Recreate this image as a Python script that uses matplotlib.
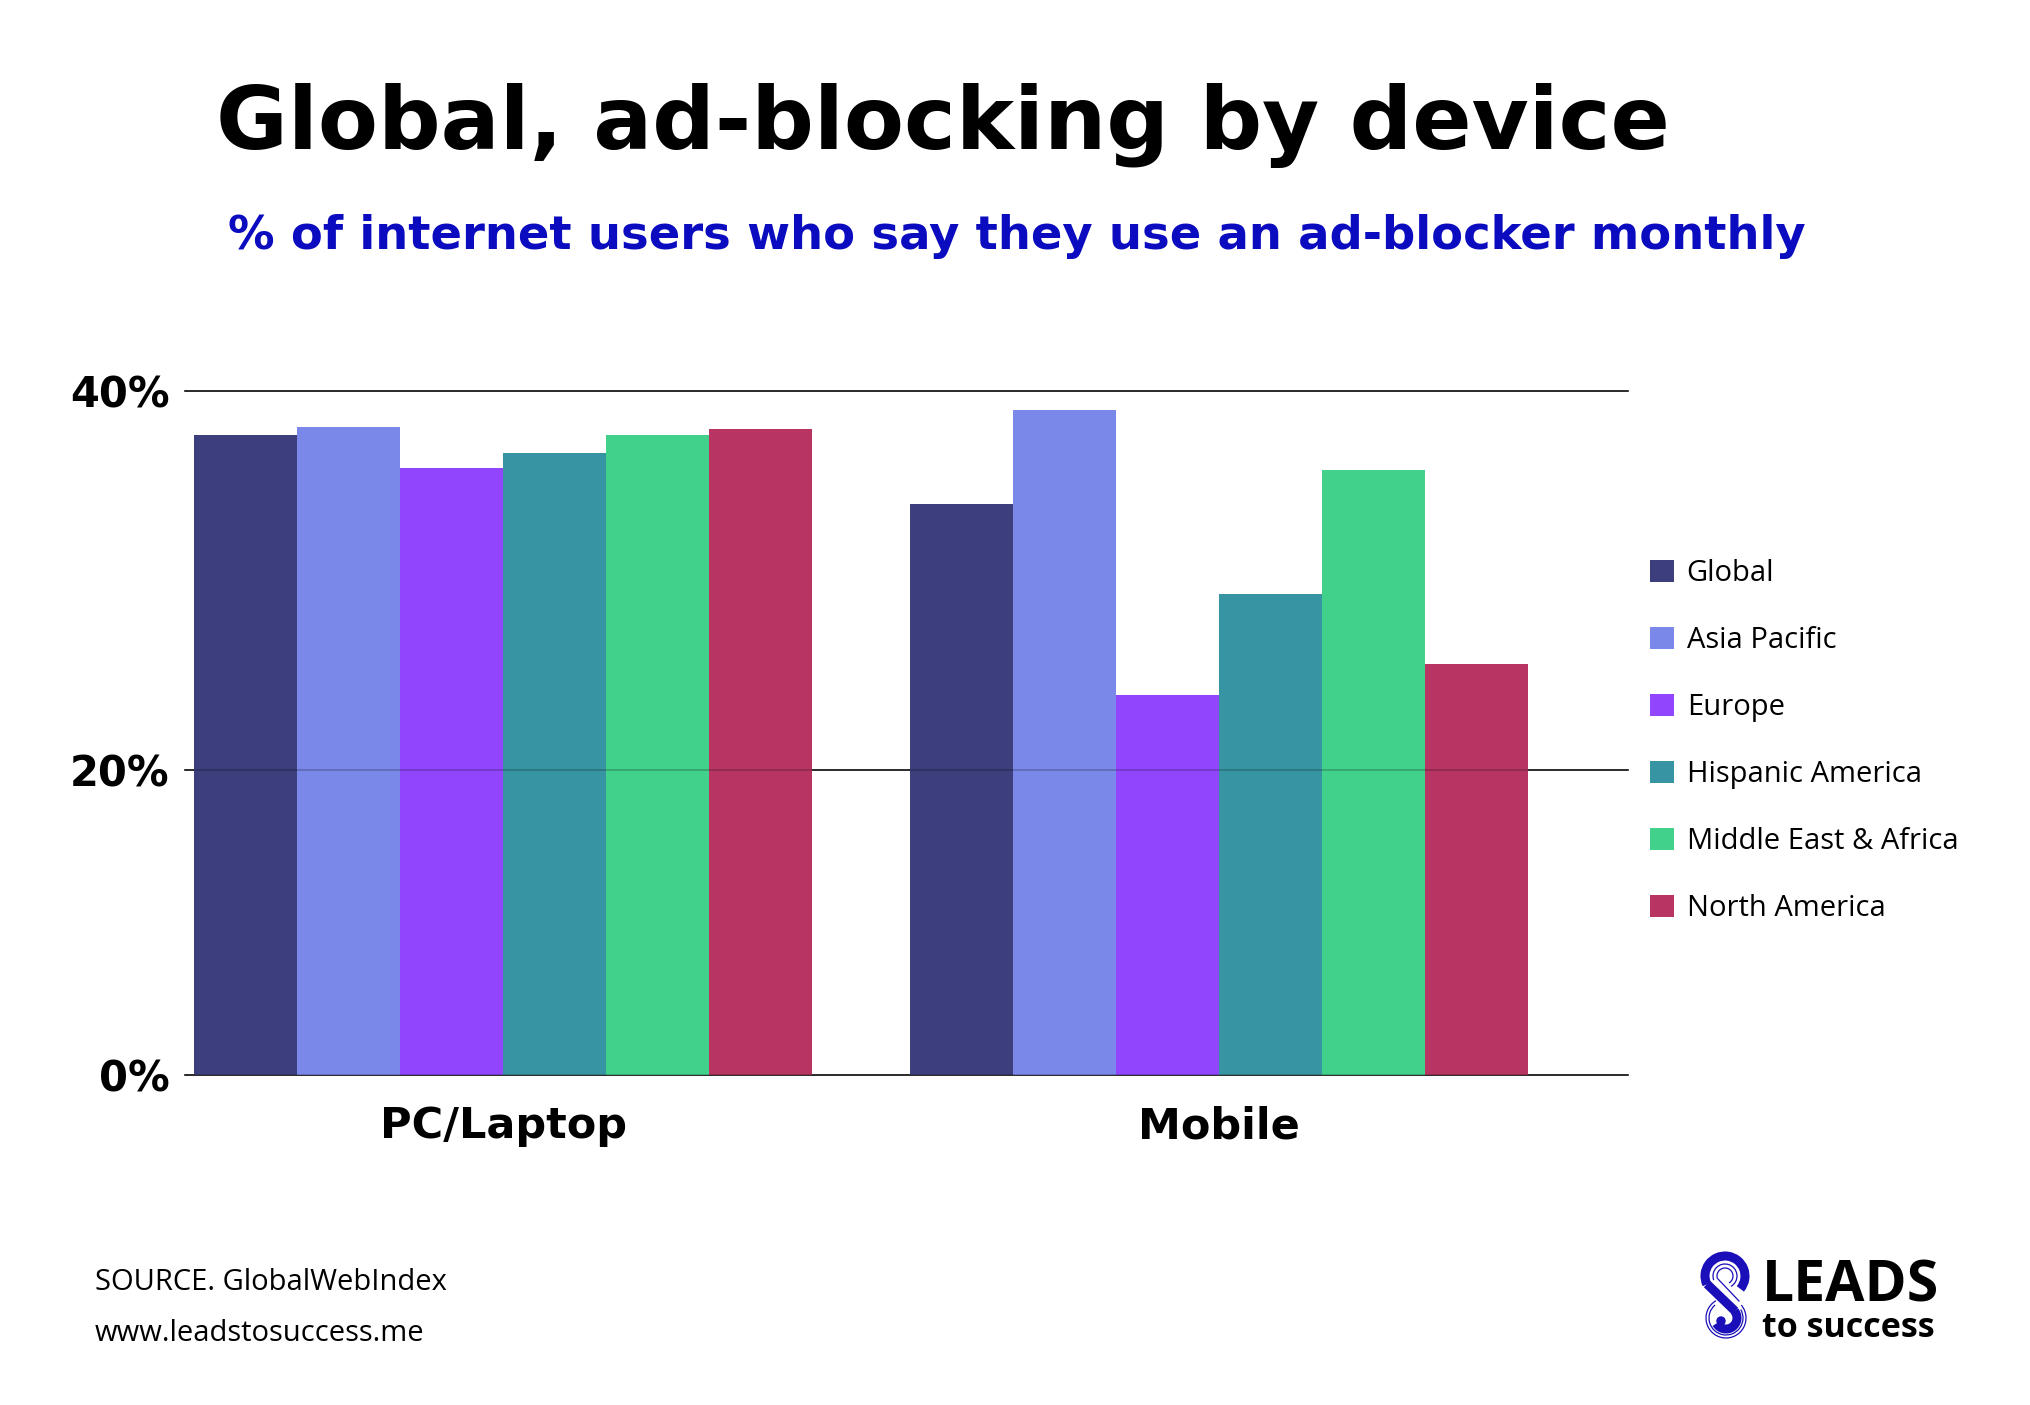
import numpy as np
import matplotlib.pyplot as plt
from matplotlib.patches import Rectangle, Arc, Circle

plt.rcParams['font.family'] = 'DejaVu Sans'

#### Data ##############################################################
devices = ['PC/Laptop', 'Mobile']
regions = ['Global', 'Asia Pacific', 'Europe', 'Hispanic America',
           'Middle East & Africa', 'North America']
pc_laptop = [37.4, 37.9, 35.5, 36.4, 37.4, 37.8]
mobile = [33.4, 38.9, 22.2, 28.1, 35.4, 24.0]
colors = ['#3c3f7b', '#7a88ea', '#9146fe', '#3795a3', '#41d18b', '#b83563']
tick_vals = [0, 17.8, 40]          # gridlines as drawn in the original
tick_labels = ['0%', '20%', '40%']

#### Figure ############################################################
W, H = 2031, 1405
fig = plt.figure(figsize=(W/100, H/100), dpi=100)
fig.patch.set_facecolor('white')

ax = fig.add_axes([185/W, 1 - 1074.5/H, (1628-185)/W, (1074.5-391)/H])
ax.set_xlim(-3.09, 10.92)
ax.set_ylim(0, 40)

group_x = np.array([0, 6.95])
values = np.array([pc_laptop, mobile])
for j in range(len(regions)):
    ax.bar(group_x + j - 2.5, values[:, j], width=1.0, color=colors[j],
           label=regions[j], zorder=3, linewidth=0)

for v in tick_vals:
    ax.axhline(v, color='black', lw=1.1, zorder=1, clip_on=False)
    # line shows faintly through the bars
    ax.axhline(v, color='black', lw=1.1, alpha=0.25, zorder=4, clip_on=False)

for s in ax.spines.values():
    s.set_visible(False)
ax.set_yticks(tick_vals)
ax.set_yticklabels(tick_labels, fontsize=30, fontweight='bold')
ax.set_xticks(group_x)
ax.set_xticklabels(devices, fontsize=31, fontweight='bold')
ax.tick_params(axis='y', length=0, pad=11)
ax.tick_params(axis='x', length=0, pad=22)

# legend
handles = [Rectangle((0, 0), 1, 1, facecolor=c, edgecolor='none') for c in colors]
fig.legend(handles, regions, loc='upper left', bbox_to_anchor=(1624/W, 1 - 533/H),
           frameon=False, prop={'family': 'Open Sans', 'size': 21},
           handlelength=0.8, handleheight=0.8, handletextpad=0.45,
           labelspacing=1.3)

# titles
fig.text(943/W, 1 - 149/H, 'Global, ad-blocking by device', ha='center',
         va='baseline', fontsize=63, fontweight='bold', color='black')
fig.text(1017/W, 1 - 249/H, '% of internet users who say they use an ad-blocker monthly',
         ha='center', va='baseline', fontsize=33.5, fontweight='bold', color='#0b0bbf')

# footer
fig.text(95/W, 1 - 1290/H, 'SOURCE. GlobalWebIndex', family='Open Sans',
         fontsize=21, va='baseline')
fig.text(95/W, 1 - 1341/H, 'www.leadstosuccess.me', family='Open Sans',
         fontsize=21, va='baseline')

# logo
fig.text(1762/W, 1 - 1301/H, 'LEADS', family='Open Sans', fontweight='bold',
         fontsize=41, va='baseline')
fig.text(1762/W, 1 - 1337/H, 'to success', family='Open Sans', fontweight='bold',
         fontsize=24.5, va='baseline')
blue = '#1a0fb8'
lax = fig.add_axes([1695/W, 1 - 1345/H, 60/W, 95/H])
lax.set_xlim(0, 60)
lax.set_ylim(0, 95)
lax.axis('off')
# thick S stroke
lax.add_patch(Arc((30, 69), 40, 40, theta1=-40, theta2=205, lw=6.5, color=blue))
lax.plot([12, 40], [61, 34], color=blue, lw=6.5, solid_capstyle='butt')
lax.add_patch(Arc((31, 27), 22, 22, theta1=-150, theta2=40, lw=6.5, color=blue))
lax.add_patch(Circle((26, 24), 4, color=blue))
# thin outline strokes
lax.add_patch(Arc((30, 69), 16, 16, theta1=-60, theta2=200, lw=0.9, color=blue))
lax.add_patch(Arc((30, 69), 24, 24, theta1=-60, theta2=200, lw=0.9, color=blue))
lax.plot([23, 44], [66, 44], color=blue, lw=0.9)
lax.plot([19, 38], [58, 38], color=blue, lw=0.9)
lax.add_patch(Arc((31, 27), 40, 40, theta1=120, theta2=400, lw=0.9, color=blue))
lax.add_patch(Arc((31, 27), 34, 34, theta1=130, theta2=390, lw=0.9, color=blue))

fig.savefig('out.png', dpi=100)
